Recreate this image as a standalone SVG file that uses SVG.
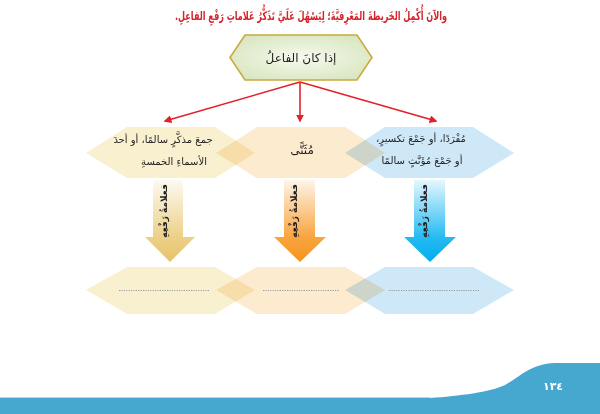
<svg xmlns="http://www.w3.org/2000/svg" width="600" height="414" viewBox="0 0 600 414">
<style>
text{font-family:"DejaVu Sans","Noto Sans",sans-serif;direction:rtl;fill:#231f20}
.title{font-size:12px;font-weight:bold;fill:#d4232b}
.lbl{font-size:10px;text-anchor:middle}
.vt{font-size:9px;font-weight:bold;text-anchor:middle}
.hex{mix-blend-mode:multiply}
.dots{stroke:#9a9a9a;stroke-width:1;stroke-dasharray:1.2 1.2;fill:none}
.red{stroke:#e4202a;stroke-width:1.6;fill:none;marker-end:url(#ah)}
</style>
<defs>
<marker id="ah" viewBox="0 0 10 10" refX="8" refY="5" markerWidth="8" markerHeight="8" orient="auto" markerUnits="userSpaceOnUse">
<path d="M0,0 L10,5 L0,10 Z" fill="#e4202a"/>
</marker>
<radialGradient id="gTop" cx="0.5" cy="0.5" r="0.6">
<stop offset="0" stop-color="#f6f9ee"/>
<stop offset="1" stop-color="#d8e6bf"/>
</radialGradient>
<linearGradient id="gY" x1="0" y1="0" x2="0" y2="1">
<stop offset="0" stop-color="#e9c873" stop-opacity="0.1"/>
<stop offset="0.7" stop-color="#e9c873" stop-opacity="0.85"/>
<stop offset="1" stop-color="#e6c36a"/>
</linearGradient>
<linearGradient id="gO" x1="0" y1="0" x2="0" y2="1">
<stop offset="0" stop-color="#f7941d" stop-opacity="0.1"/>
<stop offset="0.7" stop-color="#f7941d" stop-opacity="0.85"/>
<stop offset="1" stop-color="#f7941d"/>
</linearGradient>
<linearGradient id="gB" x1="0" y1="0" x2="0" y2="1">
<stop offset="0" stop-color="#00aeef" stop-opacity="0.1"/>
<stop offset="0.7" stop-color="#00aeef" stop-opacity="0.85"/>
<stop offset="1" stop-color="#00aeef"/>
</linearGradient>
</defs>

<text id="title" class="title" x="311" y="20" text-anchor="middle" textLength="272" lengthAdjust="spacingAndGlyphs">والآنَ أُكْمِلُ الخَريطةَ المَعْرِفيَّةَ؛ لِيَسْهُلَ عَلَيَّ تَذَكُّرُ عَلاماتِ رَفْعِ الفاعِلِ.</text>

<g id="top">
<polygon points="230,57.5 245,35 357,35 372,57.5 357,80 245,80" fill="url(#gTop)" stroke="#c9aa3c" stroke-width="1.6"/>
<text class="lbl" x="301" y="62" style="font-size:12px">إذا كانَ الفاعلُ</text>
</g>

<g id="connectors">
<line class="red" x1="300" y1="82" x2="165" y2="121"/>
<line class="red" x1="300" y1="82" x2="300" y2="121"/>
<line class="red" x1="300" y1="82" x2="436" y2="121"/>
</g>

<g id="arrows">
<g id="arrowLeft">
<polygon points="153,180 183,180 183,237 195,237 170,262 145,237 153,237" fill="url(#gY)"/>
<text class="vt" transform="translate(167,211) rotate(-90)">فعلامةُ رَفْعِهِ</text>
</g>
<g id="arrowMid">
<polygon points="284,180 315,180 315,237 326,237 300,262 274,237 284,237" fill="url(#gO)"/>
<text class="vt" transform="translate(297,211) rotate(-90)">فعلامةُ رَفْعِهِ</text>
</g>
<g id="arrowRight">
<polygon points="414,180 445,180 445,237 456,237 430,262 404,237 414,237" fill="url(#gB)"/>
<text class="vt" transform="translate(427,211) rotate(-90)">فعلامةُ رَفْعِهِ</text>
</g>
</g>

<g id="midRow">
<g id="midLeft">
<polygon class="hex" points="86,153 127,127 215,127 255,153 215,178 127,178" fill="#f9f0d0"/>
</g>
<g id="midCenter">
<polygon class="hex" points="216,153 257,127 345,127 385,153 345,178 257,178" fill="#fdebd0"/>
</g>
<g id="midRight">
<polygon class="hex" points="345,153 385,127 473,127 514,153 473,178 385,178" fill="#cfe8f8"/>
</g>
<text class="lbl" x="163" y="143">جمعَ مذكَّرٍ سالمًا، أو أحدَ</text>
<text class="lbl" x="174" y="165">الأسماءِ الخمسةِ</text>
<text class="lbl" x="302" y="154" style="font-size:12px">مُثَنًّى</text>
<text class="lbl" x="421" y="142">مُفْرَدًا، أو جَمْعَ تكسيرٍ،</text>
<text class="lbl" x="422" y="164">أو جَمْعَ مُؤَنَّثٍ سالمًا</text>
</g>

<g id="botRow">
<g id="botLeft">
<polygon class="hex" points="86,290 127,267 215,267 255,290 215,314 127,314" fill="#f9f0d0"/>
<line class="dots" x1="119" y1="290.5" x2="209" y2="290.5"/>
</g>
<g id="botCenter">
<polygon class="hex" points="216,290 257,267 345,267 385,290 345,314 257,314" fill="#fdebd0"/>
<line class="dots" x1="263" y1="290.5" x2="339" y2="290.5"/>
</g>
<g id="botRight">
<polygon class="hex" points="345,290 385,267 473,267 514,290 473,314 385,314" fill="#cfe8f8"/>
<line class="dots" x1="389" y1="290.5" x2="480" y2="290.5"/>
</g>
</g>

<g id="footer">
<path d="M430,398 C460,396 490,392 505,385 C520,377 530,364 555,363 H600 V398 Z" fill="#46a7cf"/>
<rect x="0" y="398" width="600" height="16" fill="#46a7cf"/>
<line x1="0" y1="397.5" x2="430" y2="397.5" stroke="#b3d9ea" stroke-width="1"/>
<text x="553" y="390" style="font-size:11px;font-weight:bold;fill:#ffffff;text-anchor:middle">١٣٤</text>
</g>
</svg>
